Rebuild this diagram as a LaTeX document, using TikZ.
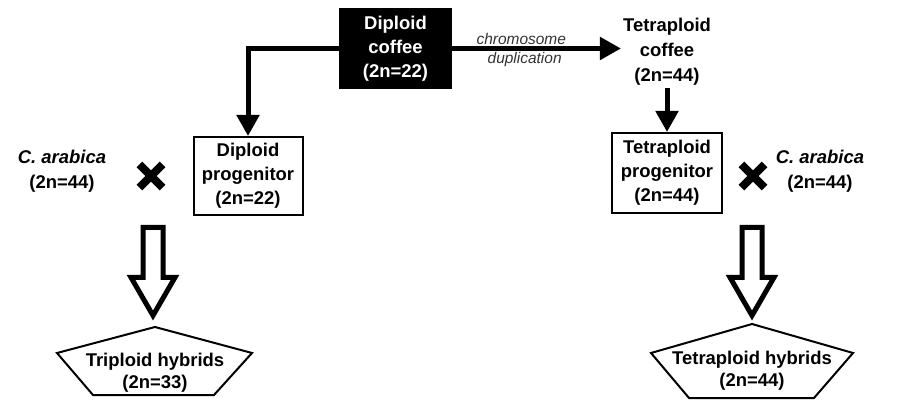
\documentclass[tikz,border=0pt]{standalone}
\usepackage{fontspec}
\setmainfont{Liberation Sans}
\usetikzlibrary{arrows.meta,shapes.arrows}

\tikzset{
  box/.style={draw, line width=0.4mm, align=center, inner sep=1pt,
    minimum width=21.8mm, minimum height=15.6mm},
  blackbox/.style={box, fill=black, text=white, minimum width=22.2mm, minimum height=15.8mm},
  conn/.style={line width=1mm, -{Triangle[length=4.2mm,width=4.4mm]}},
  hollow/.style={single arrow, draw, fill=white, line width=1mm, rotate=-90, anchor=tail,
    inner sep=0pt, minimum height=17.6mm, minimum width=0pt,
    single arrow head extend=2.4mm, single arrow tip angle=60},
  crossmark/.style={inner sep=0pt, minimum size=4.5mm},
  penta/.style={line width=0.4mm},
  note/.style={font=\fontsize{8.8}{10}\selectfont\itshape\mdseries, text=black!80, inner sep=1pt}
}

\begin{document}
\begin{tikzpicture}[x=0.2mm,y=-0.2mm,font=\fontsize{10.5}{13.6}\selectfont\bfseries]
  \useasboundingbox (0,0) rectangle (901,401);

  % top row
  \node[blackbox] (dcof) at (395.5,48.5) {Diploid\\coffee\\(2n=22)};
  \node[align=center, inner sep=1pt, font=\fontsize{10.5}{14.2}\selectfont\bfseries] (tcof) at (667,52) {Tetraploid\\coffee\\(2n=44)};

  % progenitors
  \node[box] (dprog) at (248,176) {Diploid\\progenitor\\(2n=22)};
  \node[box, minimum width=22mm, minimum height=16mm] (tprog) at (667,173) {Tetraploid\\progenitor\\(2n=44)};

  % arabica parents
  \node[align=center, font=\fontsize{10.5}{14.2}\selectfont\bfseries] (ara1) at (62,171) {\textit{C. arabica}\\(2n=44)};
  \node[align=center, font=\fontsize{10.5}{14.2}\selectfont\bfseries] (ara2) at (820,171) {\textit{C. arabica}\\(2n=44)};

  % crosses
  \node[crossmark] (x1) at (151,176) {};
  \node[crossmark] (x2) at (753,176) {};
  \foreach \c in {x1,x2}
    \draw[line width=1.6mm] (\c.north west) -- (\c.south east)
                            (\c.north east) -- (\c.south west);

  % connectors
  \draw[conn] (dcof.west) -| (dprog.north);
  \draw[conn] (dcof.east) -- (dcof.east -| tcof.west)
    node[note, pos=0.41, above] (lab1) {chromosome}
    node[note, pos=0.43, below] (lab2) {duplication};
  \draw[conn] (tcof.south) -- (tprog.north);

  % hybrids
  \node[hollow] (h1) at (153,225) {\rule{0pt}{3mm}};
  \node[hollow] (h2) at (752,225) {\rule{0pt}{3mm}};

  \draw[penta] (155,327) coordinate (p1) -- (252,353) -- (214,395) -- (93,395) -- (57,353) -- cycle;
  \node[align=center, font=\fontsize{10.5}{12.5}\selectfont\bfseries] (tri) at (155,373) {Triploid hybrids\\(2n=33)};

  \draw[penta] (752,324) coordinate (p2) -- (853,353) -- (814,398) -- (689,398) -- (651,353) -- cycle;
  \node[align=center, font=\fontsize{10.5}{12.5}\selectfont\bfseries] (tet) at (752,371) {Tetraploid hybrids\\(2n=44)};
\end{tikzpicture}
\end{document}
